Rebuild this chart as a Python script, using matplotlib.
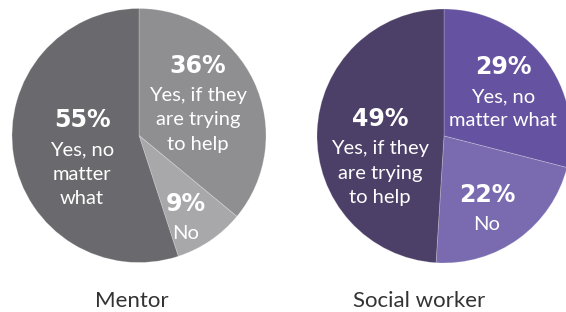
import matplotlib.pyplot as plt

# data
groups = ["Mentor", "Social worker"]
mentor_values = [36, 9, 55]
mentor_labels = ["Yes, if they\nare trying\nto help", "No", "Yes, no\nmatter\nwhat"]
social_values = [29, 22, 49]
social_labels = ["Yes, no\nmatter what", "No", "Yes, if they\nare trying\nto help"]

mentor_colors = ["#8f8f92", "#a8a8ab", "#6a6a6e"]
social_colors = ["#6553a1", "#7a6bb0", "#4c3f68"]

W, H = 566, 312
plt.rcParams["font.family"] = ["Lato", "DejaVu Sans"]

fig = plt.figure(figsize=(W / 100, H / 100), dpi=100)
ax = fig.add_axes([0, 0, 1, 1])

# pie layout in pixel coordinates (y measured from the top of the image)
pies = [
    dict(values=mentor_values, labels=mentor_labels, colors=mentor_colors,
         center=(139, 135.5), radius=127, title_x=132,
         # (x, baseline of the percentage) for each wedge
         text_pos=[(198, 73), (186, 211), (82, 127)]),
    dict(values=social_values, labels=social_labels, colors=social_colors,
         center=(444, 136), radius=127, title_x=419,
         text_pos=[(503, 74), (487, 202), (380, 126)]),
]

for name, p in zip(groups, pies):
    cx, cy = p["center"]
    ax.pie(p["values"], colors=p["colors"], startangle=90, counterclock=False,
           center=(cx, H - cy), radius=p["radius"], frame=True,
           wedgeprops=dict(linewidth=0.6, edgecolor=(1, 1, 1, 0.25)))

    for val, lab, (tx, ty) in zip(p["values"], p["labels"], p["text_pos"]):
        ax.text(tx, H - ty, f"{val}%", ha="center", va="baseline",
                fontsize=17, fontweight="bold", color="white",
                family=["DejaVu Sans"])
        for i, line in enumerate(lab.split("\n")):
            ax.text(tx, H - (ty + 28 + 24.5 * i), line, ha="center",
                    va="baseline", fontsize=14.5, color="white")

    ax.text(p["title_x"], H - 307, name, ha="center", va="baseline",
            fontsize=16, color="#333333")

ax.set_xlim(0, W)
ax.set_ylim(0, H)
ax.set_aspect("auto")
ax.axis("off")

fig.savefig("out.png", dpi=100, facecolor="white")
